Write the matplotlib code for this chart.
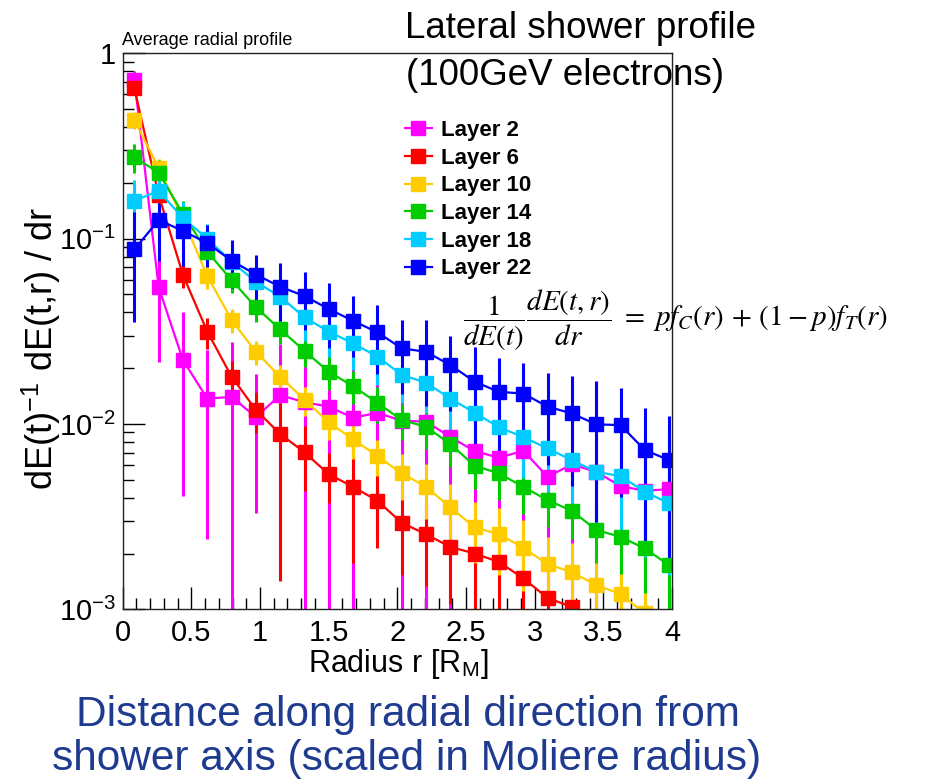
import numpy as np
import matplotlib
matplotlib.use("Agg")
import matplotlib.pyplot as plt
from matplotlib.ticker import MultipleLocator, LogLocator, FuncFormatter, NullFormatter
from matplotlib.lines import Line2D

plt.rcParams["font.family"] = ["Liberation Sans", "DejaVu Sans"]
plt.rcParams["mathtext.fontset"] = "stix"

# radial bin centres in Moliere radii
radius = [0.085, 0.262, 0.439, 0.616, 0.793, 0.970, 1.147, 1.324, 1.501, 1.678,
          1.855, 2.032, 2.209, 2.386, 2.563, 2.740, 2.917, 3.094, 3.271, 3.448,
          3.625, 3.802, 3.979]

layer2 = [0.718, 0.0546, 0.0221, 0.0137, 0.0140, 0.0109, 0.0143, 0.0131, 0.0124, 0.0108,
          0.0115, 0.0104, 0.0103, 0.0085, 0.00714, 0.00657, 0.00717, 0.00519, 0.00605,
          0.00552, 0.00462, 0.00436, 0.00445]
layer2_err = [0.08, 0.033, 0.018, 0.0113, 0.0138, 0.0076, 0.0128, 0.0130, 0.0123, 0.0107,
              0.0090, 0.0103, 0.0102, 0.0084, 0.0071, 0.0065, 0.0071, 0.0051, 0.0060,
              0.0114, 0.0046, 0.0043, 0.0044]

layer6 = [0.647, 0.172, 0.0636, 0.0315, 0.0180, 0.0119, 0.00883, 0.00703, 0.00535, 0.00458,
          0.00385, 0.00293, 0.00254, 0.00217, 0.00200, 0.00180, 0.00147, 0.00115, 0.00103,
          0.00090, 0.00080, 0.00070, 0.00062]
layer6_err = [0.04, 0.03, 0.0095, 0.006, 0.004, 0.003, 0.0074, 0.0027, 0.0016, 0.0028,
              0.0017, 0.0014, 0.0012, 0.0011, 0.0010, 0.0009, 0.0008, 0.0007, 0.0006,
              0.0005, 0.0005, 0.0004, 0.0004]

layer10 = [0.436, 0.240, 0.128, 0.0630, 0.0364, 0.0245, 0.0180, 0.0135, 0.0102, 0.00826,
           0.00671, 0.00541, 0.00458, 0.00355, 0.00277, 0.00254, 0.00215, 0.00175, 0.00159,
           0.00135, 0.00121, 0.00095, 0.00080]
layer10_err = [0.044, 0.029, 0.018, 0.0095, 0.0055, 0.0037, 0.0027, 0.0024, 0.0020, 0.0018,
               0.0015, 0.0015, 0.0015, 0.0012, 0.0010, 0.0010, 0.0009, 0.0007, 0.0007,
               0.0006, 0.0005, 0.0005, 0.0004]

layer14 = [0.275, 0.227, 0.136, 0.085, 0.0598, 0.0426, 0.0324, 0.0248, 0.0191, 0.0160,
           0.0130, 0.0105, 0.00966, 0.00779, 0.00595, 0.00541, 0.00458, 0.00388, 0.00340,
           0.00268, 0.00246, 0.00213, 0.00173]
layer14_err = [0.050, 0.039, 0.023, 0.0136, 0.0090, 0.0072, 0.0055, 0.0045, 0.0038, 0.0032,
               0.0029, 0.0023, 0.0023, 0.0019, 0.0015, 0.0015, 0.0013, 0.0011, 0.0010,
               0.0009, 0.0009, 0.0009, 0.0009]

layer18 = [0.160, 0.181, 0.129, 0.100, 0.0750, 0.0585, 0.0486, 0.0376, 0.0315, 0.0272,
           0.0231, 0.0184, 0.0167, 0.0137, 0.0115, 0.0096, 0.0085, 0.00738, 0.00638,
           0.00552, 0.00523, 0.00431, 0.00373]
layer18_err = [0.048, 0.045, 0.028, 0.020, 0.0165, 0.0129, 0.0122, 0.0094, 0.0085, 0.0076,
               0.0069, 0.0055, 0.0053, 0.0047, 0.0041, 0.0036, 0.0034, 0.0031, 0.0029,
               0.0028, 0.0029, 0.0024, 0.0022]

layer22 = [0.0875, 0.126, 0.110, 0.0946, 0.0760, 0.0640, 0.0550, 0.0490, 0.0417, 0.0360,
           0.0312, 0.0256, 0.0245, 0.0208, 0.0169, 0.0149, 0.0146, 0.0124, 0.0114,
           0.00995, 0.00986, 0.00723, 0.00638]
layer22_err = [0.052, 0.050, 0.039, 0.024, 0.022, 0.018, 0.019, 0.017, 0.016, 0.013,
               0.0126, 0.011, 0.012, 0.009, 0.0092, 0.0079, 0.0067, 0.0064, 0.0068,
               0.0070, 0.0058, 0.0049, 0.0047]

labels = ["Layer 2", "Layer 6", "Layer 10", "Layer 14", "Layer 18", "Layer 22"]
values = [layer2, layer6, layer10, layer14, layer18, layer22]
errors = [layer2_err, layer6_err, layer10_err, layer14_err, layer18_err, layer22_err]
colors = ["#ff00ff", "#ff0000", "#ffcc00", "#00cc00", "#00ccff", "#0000ff"]

W, H = 925, 783
fig = plt.figure(figsize=(W / 100, H / 100), dpi=100)
ax = fig.add_axes([122.7 / W, 1 - 609.3 / H, 549.3 / W, 556.0 / H])

r = np.array(radius)
for vals, errs, col in zip(values, errors, colors):
    v = np.array(vals)
    e = np.array(errs)
    lower = v - np.clip(v - e, 1e-6, None)
    ax.errorbar(r, v, yerr=[lower, e], color=col, ecolor=col, marker="s",
                markersize=9.5, linewidth=1.6, elinewidth=2.2, capsize=0)

ax.set_yscale("log")
ax.set_xlim(0, 4)
ax.set_ylim(1e-3, 1)

ax.xaxis.set_major_locator(MultipleLocator(0.5))
ax.xaxis.set_minor_locator(MultipleLocator(0.1))
ax.xaxis.set_major_formatter(FuncFormatter(lambda v, _: "%g" % v))
ax.yaxis.set_major_locator(LogLocator(base=10, numticks=10))
ax.yaxis.set_minor_locator(LogLocator(base=10, subs=np.arange(2, 10), numticks=20))
ax.yaxis.set_minor_formatter(NullFormatter())


def ylab(v, _):
    if abs(v - 1) < 1e-9:
        return "1"
    return r"$\mathdefault{10^{%d}}$" % int(round(np.log10(v)))


ax.yaxis.set_major_formatter(FuncFormatter(ylab))
ax.tick_params(which="both", direction="in", top=False, right=False,
               width=1, color="black", labelsize=21)
ax.tick_params(which="major", length=16)
ax.tick_params(which="minor", length=8)
ax.tick_params(axis="y", pad=5)
ax.tick_params(axis="x", pad=7)
for s in ax.spines.values():
    s.set_linewidth(1.0)
    s.set_color("#222222")

ax.set_xlabel(r"Radius r [R$_{\mathdefault{M}}$]", fontsize=22)
ax.xaxis.set_label_coords(0.501, -0.068)
ax.set_ylabel(r"dE(t)$^{\mathdefault{-1}}$ dE(t,r) / dr", fontsize=26)
ax.yaxis.set_label_coords(-0.11, 0.47)

handles = [Line2D([], [], color=c, marker="s", markersize=9.5, linewidth=1.6)
           for c in colors]
ax.legend(handles, labels, loc="upper left",
          bbox_to_anchor=(405 / W, 1 - 120 / H), bbox_transform=fig.transFigure,
          frameon=False, borderpad=0, borderaxespad=0, handlelength=1.2,
          handletextpad=0.4, labelspacing=0.3,
          prop={"family": ["Liberation Sans"], "weight": "bold", "size": 16})

fig.text(122 / W, 1 - 45 / H, "Average radial profile", fontsize=13,
         ha="left", va="baseline")
fig.text(405 / W, 1 - 38.3 / H, "Lateral shower profile", fontsize=26.5,
         ha="left", va="baseline")
fig.text(406 / W, 1 - 85 / H, "(100GeV electrons)", fontsize=26.5,
         ha="left", va="baseline")
fig.text(463 / W, 1 - 320 / H,
         r"$\dfrac{1}{dE(t)}\dfrac{dE(t,r)}{dr}\ =\ pf_C(r)\,+\,(1-p)f_T(r)$",
         fontsize=21, ha="left", va="center")

navy = "#1f3b8f"
fig.text(408 / W, 1 - 726 / H, "Distance along radial direction from",
         fontsize=30.5, color=navy, ha="center", va="baseline")
fig.text(407 / W, 1 - 770 / H, "shower axis (scaled in Moliere radius)",
         fontsize=30.5, color=navy, ha="center", va="baseline")

fig.savefig("out.png", dpi=100)
